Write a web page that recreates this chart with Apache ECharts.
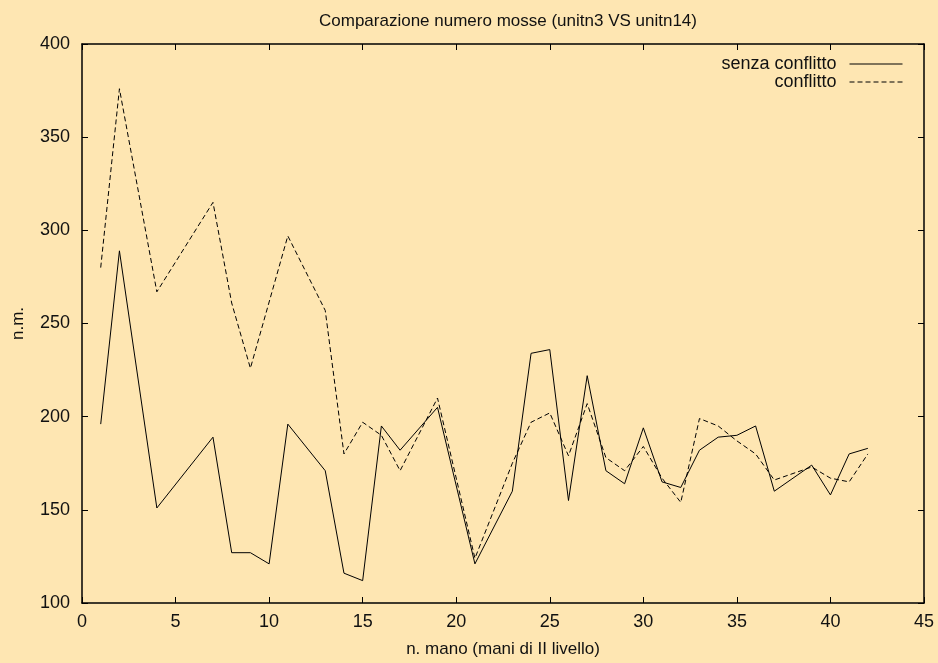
<!DOCTYPE html>
<html>
<head>
<meta charset="utf-8">
<script src="https://cdn.jsdelivr.net/npm/echarts@6/dist/echarts.min.js"></script>
<style>
html,body{margin:0;padding:0;background:#fee6b2;}
#chart{width:938px;height:663px;}
</style>
</head>
<body>
<div id="chart"></div>
<script>
var titleText = 'Comparazione numero mosse (unitn3 VS unitn14)';
var xName = 'n. mano (mani di II livello)';
var yName = 'n.m.';
var seriesNames = ['senza conflitto', 'conflitto'];

// senza conflitto (solid)
var solidX = [1, 2, 4, 7, 8, 9, 10, 11, 13, 14, 15, 16, 17, 19, 21, 23, 24, 25, 26, 27, 28, 29, 30, 31, 32, 33, 34, 35, 36, 37, 39, 40, 41, 42];
var solidY = [196, 289, 151, 189, 127, 127, 121, 196, 171, 116, 112, 195, 182, 205, 121, 160, 234, 236, 155, 222, 171, 164, 194, 165, 162, 182, 189, 190, 195, 160, 174, 158, 180, 183];

// conflitto (dashed)
var dashX = [1, 2, 4, 7, 8, 9, 11, 13, 14, 15, 16, 17, 19, 21, 23, 24, 25, 26, 27, 28, 29, 30, 31, 32, 33, 34, 35, 36, 37, 39, 40, 41, 42];
var dashY = [280, 376, 267, 315, 261, 226, 297, 257, 180, 197, 190, 171, 210, 124, 175, 197, 202, 179, 207, 178, 171, 184, 167, 154, 199, 195, 187, 180, 166, 173, 167, 165, 180];

var xMin = 0, xMax = 45, xStep = 5;
var yMin = 100, yMax = 400, yStep = 50;

function pairs(xs, ys) { return xs.map(function (x, i) { return [x, ys[i]]; }); }

var FONT = '"Liberation Sans", Arial, sans-serif';
var TXT = '#111';

var chart = echarts.init(document.getElementById('chart'));
var axisCommon = {
  axisLine: { show: true, onZero: false, lineStyle: { color: '#000', width: 1.5 } },
  axisTick: { show: true, inside: true, length: 6, lineStyle: { color: '#000', width: 1 } },
  splitLine: { show: false }
};
chart.setOption({
  backgroundColor: '#fee6b2',
  animation: false,
  title: {
    text: titleText, left: 503, top: 8, textAlign: 'center',
    textStyle: { fontFamily: FONT, fontSize: 17, fontWeight: 'normal', color: TXT }
  },
  legend: {
    orient: 'vertical', right: 35, top: 55, align: 'right', padding: 0,
    itemWidth: 53, itemHeight: 12, itemGap: 0,
    itemStyle: { opacity: 0 },
    lineStyle: { width: 1 },
    textStyle: { fontFamily: FONT, fontSize: 18, lineHeight: 18, color: TXT, padding: [0, 8, 0, 0] },
    data: seriesNames
  },
  grid: { left: 82, right: 14, top: 44, bottom: 57, containLabel: false },
  xAxis: [
    Object.assign({
      type: 'value', min: xMin, max: xMax, interval: xStep, position: 'bottom',
      name: xName, nameLocation: 'middle', nameGap: 38,
      nameTextStyle: { fontFamily: FONT, fontSize: 17, color: TXT },
      axisLabel: { margin: 10, fontFamily: FONT, fontSize: 18, color: TXT }
    }, axisCommon),
    Object.assign({
      type: 'value', min: xMin, max: xMax, interval: xStep, position: 'top',
      axisLabel: { show: false }
    }, axisCommon)
  ],
  yAxis: [
    Object.assign({
      type: 'value', min: yMin, max: yMax, interval: yStep, position: 'left',
      name: yName, nameLocation: 'middle', nameGap: 55, nameRotate: 90,
      nameTextStyle: { fontFamily: FONT, fontSize: 17, color: TXT },
      axisLabel: { margin: 12, fontFamily: FONT, fontSize: 18, color: TXT }
    }, axisCommon),
    Object.assign({
      type: 'value', min: yMin, max: yMax, interval: yStep, position: 'right',
      axisLabel: { show: false }
    }, axisCommon)
  ],
  series: [
    {
      name: seriesNames[0], type: 'line', data: pairs(solidX, solidY),
      symbol: 'none', silent: true,
      lineStyle: { color: '#000', width: 1, type: 'solid' },
      itemStyle: { color: '#000' }
    },
    {
      name: seriesNames[1], type: 'line', data: pairs(dashX, dashY),
      symbol: 'none', silent: true,
      lineStyle: { color: '#000', width: 1, type: [5, 3] },
      itemStyle: { color: '#000' }
    }
  ]
});
</script>
</body>
</html>
